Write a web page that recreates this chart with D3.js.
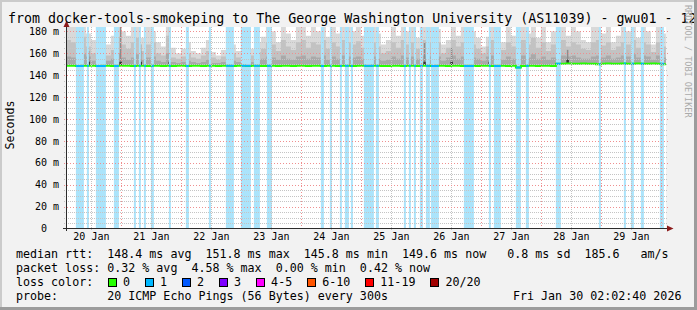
<!DOCTYPE html>
<html>
<head>
<meta charset="utf-8">
<script src="https://cdn.jsdelivr.net/npm/d3@7"></script>
<style>
body { margin: 0; background: #f2f2f2; }
svg { display: block; }
text { font-family: "DejaVu Sans Mono", monospace; white-space: pre; }
</style>
</head>
<body>
<script>
// ---- data (2 hour bins from Jan 20 02:00 UTC) ----
const smokeMax = [185,185,185,185,178,172,185,185,168,176, 185,180,176,185,185,174,185,180,170,166,
                  185,165,160,164,170,162,160,165,172,161, 158,163,185,168,162,185,185,164,170,175,
                  185,180,170,185,178,172,185,185,176,185, 180,185,175,185,178,185,185,180,185,176,
                  185,185,178,168,172,185,176,185,180,185, 174,185,185,185,182,168,172,185,176,185,
                  185,180,174,166,175,185,180,170,185,176, 172,185,178,185,174,185,170,180,185,185,
                  176,185,180,172,170,185,185,178,185,170, 176,185,180,185,174,185,180,168,185,178];
const smokeP90 = [172,170,168,175,166,160,170,172,158,163, 175,168,164,170,174,162,168,170,160,158,
                  176,156,155,157,160,156,155,158,162,156, 154,157,160,160,156,163,165,158,161,164,
                  170,168,162,172,166,163,170,172,165,170, 168,172,164,170,166,172,170,168,171,165,
                  172,170,166,160,162,170,165,172,168,170, 164,172,170,174,170,160,165,172,166,170,
                  172,168,164,160,166,172,168,163,170,166, 164,172,168,174,165,170,162,168,170,172,
                  166,170,168,164,163,170,172,167,170,163, 166,170,168,172,165,170,168,161,170,166];
const smokeP75 = [157,156,155,159,157,153,156,158,153,155, 160,156,154,156,159,154,156,157,153,152,
                  160,152,151,152,153,152,151,152,154,151, 151,152,154,153,152,155,156,152,154,155,
                  157,156,154,158,155,154,157,158,155,157, 156,158,154,157,155,158,157,156,157,155,
                  158,157,155,153,154,157,155,158,156,157, 155,158,157,159,157,153,156,158,155,157,
                  158,156,155,153,157,158,156,154,157,155, 154,158,156,159,155,157,154,156,157,158,
                  157,158,156,155,155,157,158,156,158,155, 156,158,157,159,156,158,157,154,158,156];
const medianRtt = [148.5,148.5,148.4,148.5,148.6,148.5,148.4,148.5,148.5,148.4, 148.5,148.6,148.5,148.4,148.5,148.5,148.4,148.5,148.5,148.4,
                   148.5,148.4,148.5,148.5,148.4,148.5,148.5,148.4,148.5,148.5, 148.4,148.5,148.5,148.4,148.5,148.5,148.4,148.5,148.5,148.4,
                   148.5,148.5,148.4,148.5,148.5,148.4,148.5,148.5,148.4,148.5, 148.5,148.4,148.5,148.5,148.4,148.5,148.5,148.4,148.5,148.5,
                   148.4,148.5,148.5,148.2,148.4,148.5,148.5,148.4,148.5,148.5, 148.4,148.5,148.5,148.4,148.5,148.5,148.4,148.5,148.5,148.4,
                   148.5,148.5,148.4,148.5,148.5,148.4,148.5,148.5,148.4,148.5, 147.0,148.4,148.5,148.5,148.4,148.5,148.5,148.4,150.4,150.4,
                   150.5,150.4,150.4,150.5,150.4,150.4,149.9,150.4,150.5,150.4, 150.4,150.5,150.4,150.4,150.5,150.4,150.4,150.5,150.4,149.8];
// loss periods: [start hour, end hour] counted from Jan 20 00:00 UTC, lost pings
const lossPeriods = [[6.0,9.2,1],[10.4,11.2,1],[14.0,18.0,1],[21.2,23.2,1],[29.2,30.0,1],[31.2,32.0,1],
  [33.2,34.0,1],[36.0,37.2,1],[43.2,44.0,1],[50.0,51.2,1],[59.2,60.0,1],[66.0,69.2,1],[72.0,76.0,1],
  [77.2,79.6,1],[82.4,84.4,1],[104.0,105.2,1],[107.6,108.4,1],[111.6,112.4,1],[113.6,115.2,1],
  [116.0,116.8,1],[121.2,125.2,1],[126.0,127.2,1],[137.2,138.0,1],[139.2,140.0,1],[141.2,142.0,1],
  [143.6,144.8,1],[146.0,147.6,1],[148.0,151.2,1],[161.2,165.2,1],[171.2,172.0,1],[173.2,176.0,1],
  [182.0,184.0,1],[186.0,187.2,1],[198.0,200.0,1],[215.2,216.0,1],[225.2,226.0,1],[228.0,229.2,1],
  [232.0,233.2,1],[239.6,241.2,1]];
// single dark smoke columns: [hour from Jan 20 00:00 UTC, top ms]
const spikes = [[10.8,162],[23.6,184],[31.6,168],[43.2,184],[145.2,170],[156.0,165],[171.2,172],[186.4,180],[202.4,163]];
const lossLabels = ['0','1','2','3','4-5','6-10','11-19','20/20'];
const lossColors = ['#26ff00','#00b8ff','#0059ff','#7e00ff','#ff00ff','#ff5500','#ff0000','#a10000'];
const yTicks = [0,20,40,60,80,100,120,140,160,180];
const dayLabels = ['20 Jan','21 Jan','22 Jan','23 Jan','24 Jan','25 Jan','26 Jan','27 Jan','28 Jan','29 Jan'];
const title = 'from docker-tools-smokeping to The George Washington University (AS11039) - gwu01 - 12';
const legendRows = [
  'median rtt:  148.4 ms avg  151.8 ms max  145.8 ms min  149.6 ms now   0.8 ms sd  185.6   am/s',
  'packet loss: 0.32 % avg  4.58 % max  0.00 % min  0.42 % now',
  'loss color:',
  'probe:       20 ICMP Echo Pings (56 Bytes) every 300s'
];
const stamp = 'Fri Jan 30 02:02:40 2026';

// ---- setup ----
const W = 697, H = 310;
const HOUR = 3600e3;
const day0 = Date.UTC(2026, 0, 20);
const tStart = Date.UTC(2026, 0, 20, 2, 2, 40);
const tEnd = Date.UTC(2026, 0, 30, 2, 2, 40);
const binStart = Date.UTC(2026, 0, 20, 2, 0, 0);
const bins = medianRtt.map((_, i) => binStart + i * 2 * HOUR);

const x = d3.scaleUtc().domain([tStart, tEnd]).range([66, 666]);
const y = d3.scaleLinear().domain([0, 183.9]).range([228.5, 27]);

const svg = d3.select(document.body).append('svg')
    .attr('width', W).attr('height', H);

// frame
svg.append('rect').attr('width', W).attr('height', H).attr('fill', '#f2f2f2');
svg.append('rect').attr('x', 0).attr('y', 0).attr('width', W).attr('height', 2).attr('fill', '#cbcbcb');
svg.append('rect').attr('x', 0).attr('y', 0).attr('width', 2).attr('height', H).attr('fill', '#cbcbcb');
svg.append('rect').attr('x', 0).attr('y', H - 3).attr('width', W).attr('height', 3).attr('fill', '#9c9c9c');

// canvas
svg.append('rect').attr('x', 66).attr('y', 27).attr('width', 600).attr('height', 201.5).attr('fill', '#fff');

svg.append('clipPath').attr('id', 'plotclip')
  .append('rect').attr('x', 66).attr('y', 27).attr('width', 600).attr('height', 201.5);
const plot = svg.append('g').attr('clip-path', 'url(#plotclip)');

function stepPoints(vals) {
  const pts = vals.map((v, i) => ({ t: bins[i], v: v, m: medianRtt[i] }));
  const last = pts[pts.length - 1];
  pts.push({ t: last.t + 2 * HOUR, v: last.v, m: last.m });
  return pts;
}
function smokeLayer(vals, color) {
  const area = d3.area().curve(d3.curveStepAfter)
      .x(d => x(d.t)).y0(d => y(d.m)).y1(d => y(Math.min(d.v, 183.9)));
  plot.append('path').datum(stepPoints(vals)).attr('fill', color).attr('d', area);
}
smokeLayer(smokeMax, '#d9d9d9');
smokeLayer(smokeP90, '#c2c2c2');
smokeLayer(smokeP75, '#a9a9a9');

// dark smoke columns
function medianAt(t) {
  const i = Math.max(0, Math.min(medianRtt.length - 1, Math.floor((t - binStart) / (2 * HOUR))));
  return medianRtt[i];
}
plot.selectAll('rect.spike').data(spikes).enter().append('rect')
    .attr('class', 'spike')
    .attr('x', d => x(day0 + d[0] * HOUR))
    .attr('width', 1.5)
    .attr('y', d => y(Math.min(d[1], 183.9)))
    .attr('height', d => y(medianAt(day0 + d[0] * HOUR)) - y(Math.min(d[1], 183.9)))
    .attr('fill', '#8c8c8c');
plot.selectAll('rect.spikebase').data(spikes).enter().append('rect')
    .attr('class', 'spikebase')
    .attr('x', d => x(day0 + d[0] * HOUR) - 0.5)
    .attr('width', 2.5)
    .attr('y', d => y(medianAt(day0 + d[0] * HOUR)) - 4)
    .attr('height', 4)
    .attr('fill', '#333');

// loss background bars
plot.selectAll('rect.loss').data(lossPeriods).enter().append('rect')
    .attr('class', 'loss')
    .attr('x', d => x(day0 + d[0] * HOUR))
    .attr('width', d => x(day0 + d[1] * HOUR) - x(day0 + d[0] * HOUR))
    .attr('y', y(183.9))
    .attr('height', y(0) - y(183.9))
    .attr('fill', '#abe4fb');

// median line
const medLine = d3.line().curve(d3.curveStepAfter).x(d => x(d.t)).y(d => y(d.m));
plot.append('path').datum(stepPoints(medianRtt))
    .attr('fill', 'none').attr('stroke', lossColors[0]).attr('stroke-width', 2).attr('d', medLine);
plot.selectAll('line.lossmed').data(lossPeriods).enter().append('line')
    .attr('class', 'lossmed')
    .attr('x1', d => x(day0 + d[0] * HOUR))
    .attr('x2', d => x(day0 + d[1] * HOUR))
    .attr('y1', d => y(medianAt(day0 + d[0] * HOUR)))
    .attr('y2', d => y(medianAt(day0 + d[0] * HOUR)))
    .attr('stroke', d => lossColors[d[2]]).attr('stroke-width', 2);

// grid
const grid = svg.append('g').attr('shape-rendering', 'crispEdges');
const minorY = d3.range(5, 184, 5).filter(v => v % 20 !== 0);
const majorY = d3.range(20, 184, 20);
const noons = dayLabels.map((_, i) => Date.UTC(2026, 0, 20 + i, 12));
const mids = d3.utcDay.range(Date.UTC(2026, 0, 21), tEnd + 1);
grid.selectAll('line.hmin').data(minorY).enter().append('line')
    .attr('x1', 64).attr('x2', 668)
    .attr('y1', d => Math.round(y(d)) + 0.5).attr('y2', d => Math.round(y(d)) + 0.5)
    .attr('stroke', '#c4c4c4').attr('stroke-dasharray', '1,1');
grid.selectAll('line.vmin').data(noons).enter().append('line')
    .attr('x1', d => Math.round(x(d)) + 0.5).attr('x2', d => Math.round(x(d)) + 0.5)
    .attr('y1', 27).attr('y2', 231)
    .attr('stroke', '#c4c4c4').attr('stroke-dasharray', '1,1');
grid.selectAll('line.hmaj').data(majorY).enter().append('line')
    .attr('x1', 64).attr('x2', 668)
    .attr('y1', d => Math.round(y(d)) + 0.5).attr('y2', d => Math.round(y(d)) + 0.5)
    .attr('stroke', '#ef8f8f').attr('stroke-dasharray', '1,2');
grid.selectAll('line.vmaj').data(mids).enter().append('line')
    .attr('x1', d => Math.round(x(d)) + 0.5).attr('x2', d => Math.round(x(d)) + 0.5)
    .attr('y1', 27).attr('y2', 231)
    .attr('stroke', '#ef8f8f').attr('stroke-dasharray', '1,2');

// axes lines + arrows
svg.append('line').attr('x1', 63).attr('x2', 670).attr('y1', 228.5).attr('y2', 228.5)
    .attr('stroke', '#2c2c2c').attr('shape-rendering', 'crispEdges');
svg.append('line').attr('x1', 66.5).attr('x2', 66.5).attr('y1', 231).attr('y2', 24)
    .attr('stroke', '#2c2c2c').attr('shape-rendering', 'crispEdges');
svg.append('path').attr('d', 'M63.5,27 L66.5,20.5 L69.5,27 Z').attr('fill', '#8b1a1a');
svg.append('path').attr('d', 'M667,225.5 L673.5,228.5 L667,231.5 Z').attr('fill', '#8b1a1a');

// y labels
const yAxis = d3.axisLeft(y).tickValues(yTicks).tickSize(0).tickPadding(7)
    .tickFormat(v => v === 0 ? '0  ' : v + ' m');
svg.append('g').attr('transform', 'translate(66,0)').call(yAxis)
    .call(g => g.select('.domain').remove())
    .selectAll('text').attr('font-family', '"DejaVu Sans Mono", monospace')
    .attr('font-size', 10).attr('fill', '#000');

// x labels at noon
const xAxis = d3.axisBottom(x).tickValues(noons).tickSize(0).tickPadding(0)
    .tickFormat((d, i) => dayLabels[i]);
svg.append('g').attr('transform', 'translate(0,233)').call(xAxis)
    .call(g => g.select('.domain').remove())
    .selectAll('text').attr('font-family', '"DejaVu Sans Mono", monospace')
    .attr('font-size', 10).attr('fill', '#000').attr('dy', '0.71em');

// title and side texts
svg.append('text').attr('x', 8).attr('y', 23.3).attr('font-size', 13.3).attr('fill', '#000').text(title);
svg.append('text').attr('transform', 'translate(14,125) rotate(-90)').attr('text-anchor', 'middle')
    .attr('font-size', 11.6).attr('fill', '#000').text('Seconds');
svg.append('text').attr('transform', 'translate(685,5) rotate(90)')
    .attr('font-size', 8.5).attr('fill', '#aaa').text('RRDTOOL / TOBI OETIKER');

// right border over the title
svg.append('rect').attr('x', W - 3).attr('y', 0).attr('width', 3).attr('height', H).attr('fill', '#9c9c9c');

// legend
const baseY = [257.5, 271.8, 286, 300.2];
legendRows.forEach((r, i) => {
  svg.append('text').attr('x', 16).attr('y', baseY[i]).attr('font-size', 11.67).attr('fill', '#000').text(r);
});
let lx = 108;
lossLabels.forEach((lab, i) => {
  svg.append('rect').attr('x', lx + 0.5).attr('y', 278.5).attr('width', 8).attr('height', 8)
      .attr('fill', lossColors[i]).attr('stroke', '#000').attr('shape-rendering', 'crispEdges');
  svg.append('text').attr('x', lx + 15).attr('y', baseY[2]).attr('font-size', 11.67).attr('fill', '#000').text(lab);
  lx += 15 + lab.length * 7.03 + 15;
});
svg.append('text').attr('x', 513).attr('y', baseY[3]).attr('font-size', 11.67).attr('fill', '#000').text(stamp);
</script>
</body>
</html>
